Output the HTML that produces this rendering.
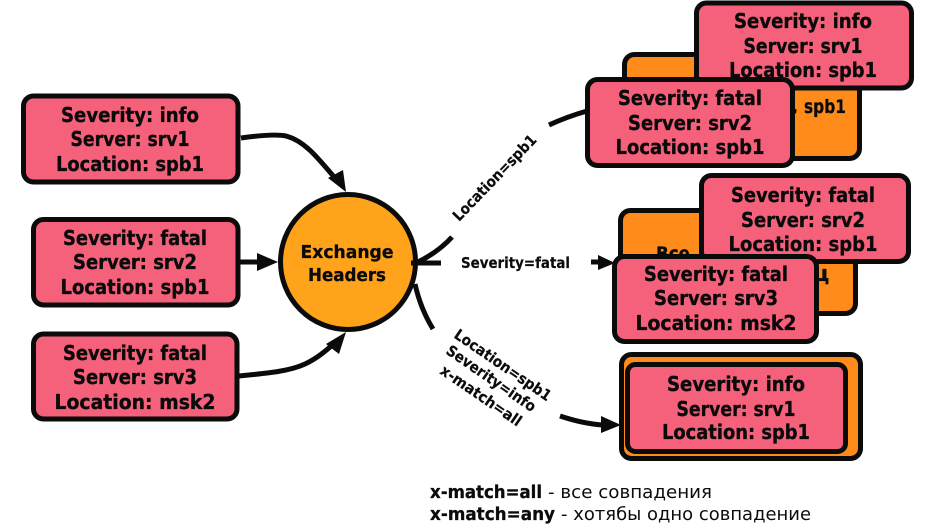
<!DOCTYPE html>
<html>
<head>
<meta charset="utf-8">
<style>
html,body{margin:0;padding:0;background:#fff;width:936px;height:532px;overflow:hidden}
svg{display:block}
text{font-family:"DejaVu Sans","Liberation Sans",sans-serif;fill:#0b0b0b}
.b{font-weight:700;font-size:20px;text-anchor:middle;stroke:#0b0b0b;stroke-width:.35px}
.l{font-weight:700;font-size:15px;stroke:#0b0b0b;stroke-width:.2px}
.box{fill:#f5607a;stroke:#0b0b0b;stroke-width:5;stroke-linejoin:round}
.or{fill:#ff8c1a;stroke:#0b0b0b;stroke-width:5;stroke-linejoin:round}
.c{fill:none;stroke:#0b0b0b;stroke-width:5}
</style>
</head>
<body>
<svg width="936" height="532" viewBox="0 0 936 532" xmlns="http://www.w3.org/2000/svg">
<rect width="936" height="532" fill="#fff"/>

<!-- left connectors -->
<path class="c" d="M241 138 C262 135 276 134 286 136 C305 141 318 158 340 184"/>
<polygon points="346,192 328,178 343,170" fill="#0b0b0b"/>
<path class="c" d="M240 262 H260"/>
<polygon points="257,253 278,262 257,271" fill="#0b0b0b"/>
<path class="c" d="M239 376 C270 373 290 371 305 364 C318 358 328 349 338 340"/>
<polygon points="346,332 339,354 326,344" fill="#0b0b0b"/>

<!-- left boxes -->
<rect class="box" x="23.500" y="96" width="214.500" height="86" rx="10"/>
<text class="b" x="130" y="122" textLength="138" lengthAdjust="spacingAndGlyphs">Severity: info</text>
<text class="b" x="130" y="146" textLength="119" lengthAdjust="spacingAndGlyphs">Server: srv1</text>
<text class="b" x="130" y="171" textLength="148" lengthAdjust="spacingAndGlyphs">Location: spb1</text>

<rect class="box" x="33.500" y="219.500" width="204.500" height="85.500" rx="10"/>
<text class="b" x="135" y="245" textLength="144" lengthAdjust="spacingAndGlyphs">Severity: fatal</text>
<text class="b" x="135" y="269" textLength="124" lengthAdjust="spacingAndGlyphs">Server: srv2</text>
<text class="b" x="135" y="294" textLength="149" lengthAdjust="spacingAndGlyphs">Location: spb1</text>

<rect class="box" x="33.500" y="334" width="203.500" height="85" rx="10"/>
<text class="b" x="135" y="360" textLength="144" lengthAdjust="spacingAndGlyphs">Severity: fatal</text>
<text class="b" x="135" y="384" textLength="124" lengthAdjust="spacingAndGlyphs">Server: srv3</text>
<text class="b" x="135" y="409" textLength="161" lengthAdjust="spacingAndGlyphs">Location: msk2</text>

<!-- exchange -->
<circle cx="348" cy="262" r="67.500" fill="#ffa31a" stroke="#0b0b0b" stroke-width="5"/>
<text x="347" y="258" text-anchor="middle" font-weight="700" font-size="17.500" textLength="93" lengthAdjust="spacingAndGlyphs" stroke="#0b0b0b" stroke-width=".3">Exchange</text>
<text x="347" y="281" text-anchor="middle" font-weight="700" font-size="17.500" textLength="78" lengthAdjust="spacingAndGlyphs" stroke="#0b0b0b" stroke-width=".3">Headers</text>

<!-- right connectors -->
<path class="c" d="M418 262 C432 255 443 247 452 237"/>
<path class="c" d="M549 125 C562 119 573 115 587 111"/>
<path class="c" d="M411 263 H441"/>
<path class="c" d="M591 262 H600"/>
<polygon points="598,255 615,263 598,270" fill="#0b0b0b"/>
<path class="c" d="M415 284 C419 302 425 316 433 329"/>
<path class="c" d="M560 416 C572 420 586 424 603 425"/>
<polygon points="601,416 621,425 601,433" fill="#0b0b0b"/>

<!-- labels -->
<text class="l" transform="translate(459 222) rotate(-46)" textLength="113" lengthAdjust="spacingAndGlyphs">Location=spb1</text>
<text class="l" x="461" y="268" textLength="109" lengthAdjust="spacingAndGlyphs">Severity=fatal</text>
<text class="l" transform="translate(453 337) rotate(34.500)" textLength="114" lengthAdjust="spacingAndGlyphs">Location=spb1</text>
<text class="l" transform="translate(445 353) rotate(34.500)" textLength="105" lengthAdjust="spacingAndGlyphs">Severity=info</text>
<text class="l" transform="translate(439 373) rotate(34.500)" textLength="95" lengthAdjust="spacingAndGlyphs">x-match=all</text>

<!-- top right group -->
<rect class="or" x="624.500" y="54.500" width="235" height="104" rx="10"/>
<text x="791" y="113" font-weight="700" font-size="19" stroke="#0b0b0b" stroke-width=".3">,</text>
<text x="804" y="113" font-weight="700" font-size="19" textLength="42" lengthAdjust="spacingAndGlyphs" stroke="#0b0b0b" stroke-width=".3">spb1</text>
<rect class="box" x="696.500" y="3" width="215" height="85" rx="10"/>
<text class="b" x="803" y="28" textLength="138" lengthAdjust="spacingAndGlyphs">Severity: info</text>
<text class="b" x="803" y="53" textLength="119" lengthAdjust="spacingAndGlyphs">Server: srv1</text>
<text class="b" x="803" y="77" textLength="148" lengthAdjust="spacingAndGlyphs">Location: spb1</text>
<rect class="box" x="587.500" y="79.500" width="205" height="86" rx="10"/>
<text class="b" x="690" y="105" textLength="144" lengthAdjust="spacingAndGlyphs">Severity: fatal</text>
<text class="b" x="690" y="130" textLength="124" lengthAdjust="spacingAndGlyphs">Server: srv2</text>
<text class="b" x="690" y="154" textLength="149" lengthAdjust="spacingAndGlyphs">Location: spb1</text>

<!-- middle right group -->
<rect class="or" x="620.500" y="210.500" width="235" height="103" rx="10"/>
<text x="656" y="260" font-weight="700" font-size="19" textLength="34" lengthAdjust="spacingAndGlyphs" stroke="#0b0b0b" stroke-width=".3">Все</text>
<text x="813" y="281" font-weight="700" font-size="22" stroke="#0b0b0b" stroke-width=".3">ц</text>
<rect class="box" x="701.500" y="175.500" width="207" height="86" rx="10"/>
<text class="b" x="803" y="202" textLength="144" lengthAdjust="spacingAndGlyphs">Severity: fatal</text>
<text class="b" x="803" y="227" textLength="124" lengthAdjust="spacingAndGlyphs">Server: srv2</text>
<text class="b" x="803" y="251" textLength="149" lengthAdjust="spacingAndGlyphs">Location: spb1</text>
<rect class="box" x="614.500" y="256.500" width="202" height="85" rx="10"/>
<text class="b" x="716" y="281" textLength="144" lengthAdjust="spacingAndGlyphs">Severity: fatal</text>
<text class="b" x="716" y="305" textLength="124" lengthAdjust="spacingAndGlyphs">Server: srv3</text>
<text class="b" x="716" y="330" textLength="161" lengthAdjust="spacingAndGlyphs">Location: msk2</text>

<!-- bottom right group -->
<rect class="or" x="621.500" y="354.500" width="239" height="104" rx="10"/>
<rect class="box" x="627.500" y="364.500" width="218" height="87" rx="8"/>
<text class="b" x="736" y="391" textLength="138" lengthAdjust="spacingAndGlyphs">Severity: info</text>
<text class="b" x="736" y="416" textLength="119" lengthAdjust="spacingAndGlyphs">Server: srv1</text>
<text class="b" x="736" y="439" textLength="148" lengthAdjust="spacingAndGlyphs">Location: spb1</text>

<!-- legend -->
<text x="430" y="498" font-weight="700" font-size="18" textLength="112" lengthAdjust="spacingAndGlyphs" stroke="#0b0b0b" stroke-width=".3">x-match=all</text>
<text x="548" y="498" font-size="18" textLength="164" lengthAdjust="spacingAndGlyphs">- все совпадения</text>
<text x="430" y="520" font-weight="700" font-size="18" textLength="125" lengthAdjust="spacingAndGlyphs" stroke="#0b0b0b" stroke-width=".3">x-match=any</text>
<text x="561" y="520" font-size="18" textLength="250" lengthAdjust="spacingAndGlyphs">- хотябы одно совпадение</text>
</svg>
</body>
</html>
